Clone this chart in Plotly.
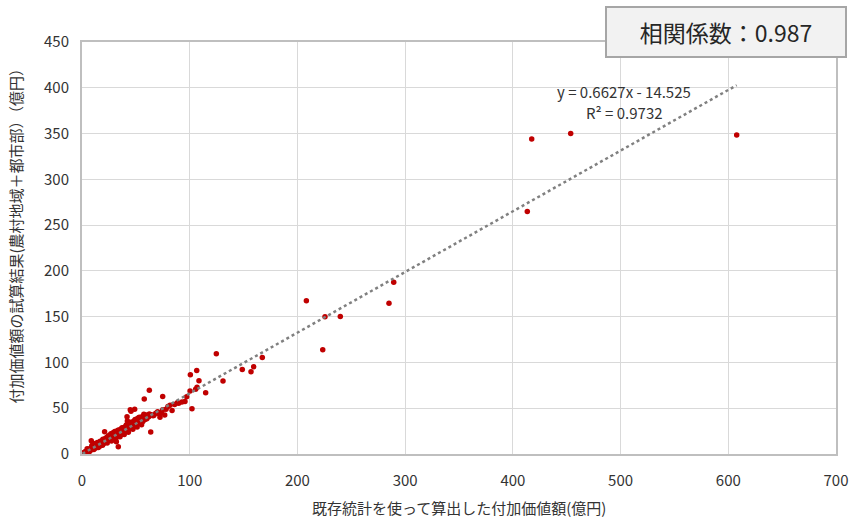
import plotly.graph_objects as go

# --- data ---
# large / outlying points
outer_x = [607.8, 417.5, 453.7, 413.4, 208.3, 225.6, 239.8, 223.5, 285.0, 289.4,
           124.7, 167.4, 159.4, 156.9, 148.8, 130.9, 100.6, 106.5, 108.6, 106.8,
           105.5, 100.3, 114.8, 97.2, 62.5, 57.8, 74.9, 95.6, 92.8, 89.8,
           102.1, 81.7, 79.8, 78.0, 83.6, 74.9, 73.6, 71.8, 76.8, 72.4,
           66.8, 62.5, 63.8, 68.5, 70.2, 86.0, 88.5]
outer_y = [348.5, 344.1, 350.0, 265.0, 167.5, 150.0, 150.3, 113.9, 164.6, 187.6,
           109.5, 105.4, 95.3, 89.8, 92.3, 79.6, 86.5, 91.2, 79.9, 73.0,
           70.8, 68.7, 66.8, 62.4, 69.7, 60.2, 62.8, 57.3, 56.9, 55.5,
           49.3, 53.3, 51.8, 48.9, 47.4, 48.2, 45.2, 43.8, 42.7, 40.2,
           42.4, 43.8, 24.1, 44.6, 46.1, 54.2, 56.0]

# dense cluster near the origin
cluster_x = [0.5, 1.0, 1.5, 2.0, 2.5, 3.0, 3.2, 3.8, 4.0, 4.5, 5.0, 5.2, 5.8, 6.0, 6.3,
             6.9, 7.2, 7.5, 8.0, 8.3, 8.6, 8.8, 9.2, 9.5, 10.0, 10.2, 10.4, 10.8, 11.3, 11.6,
             12.0, 12.3, 12.8, 13.1, 13.5, 13.9, 14.2, 14.6, 15.0, 15.3, 15.8, 16.2, 16.5, 17.0,
             17.4, 17.8, 18.2, 18.6, 19.0, 19.4, 19.8, 20.2, 20.6, 21.0, 21.1, 21.5, 22.0, 22.3,
             22.8, 23.2, 23.6, 24.0, 24.4, 24.8, 25.2, 25.6, 26.0, 26.4, 26.8, 27.2, 27.6, 28.0,
             28.4, 28.8, 29.2, 29.6, 30.0, 30.4, 30.8, 31.2, 31.9, 32.0, 32.4, 32.8, 33.2, 33.7,
             33.8, 34.2, 34.6, 35.0, 35.4, 35.8, 36.2, 36.6, 37.0, 37.4, 37.8, 38.2, 38.6, 39.0,
             39.4, 39.8, 40.2, 40.6, 41.0, 41.4, 41.8, 42.0, 42.1, 42.4, 42.8, 43.2, 43.6, 44.0,
             44.4, 44.8, 45.0, 45.2, 45.5, 45.8, 46.2, 46.6, 47.0, 47.4, 47.8, 48.2, 48.6, 48.9,
             49.0, 49.4, 49.8, 50.2, 50.6, 51.0, 51.4, 51.8, 52.2, 52.6, 53.0, 53.5, 54.0, 54.5,
             55.0, 55.5, 56.0, 56.5, 57.0, 58.0, 58.5, 59.0, 59.7, 60.2, 61.0, 62.0, 64.5, 66.0,
             3.5, 5.5, 7.8, 9.8, 11.9, 13.3, 15.6, 17.6, 19.6, 21.8, 23.9, 25.9, 27.9, 29.9,
             31.6, 33.5, 35.6, 37.6, 39.6, 41.6, 43.8, 46.0, 48.0, 50.0, 52.0, 54.2, 56.2,
             4.8, 7.0, 9.1, 11.0, 13.0, 15.2, 16.9, 19.1, 21.3, 23.4, 25.5, 27.4, 29.5, 31.4,
             33.4, 35.3, 37.2, 39.2, 41.1, 43.0, 45.1, 47.2, 49.3, 51.2, 53.2, 55.3, 57.4]
cluster_y = [0.3, 0.8, 1.2, 1.0, 1.8, 2.2, 1.5, 2.9, 2.1, 3.3, 2.8, 4.1, 3.5, 4.6, 2.9,
             4.2, 5.5, 3.8, 5.1, 6.3, 14.6, 4.6, 6.0, 7.4, 5.4, 11.7, 6.8, 8.2, 7.1, 5.9,
             8.8, 7.5, 9.6, 6.9, 8.4, 10.3, 12.6, 9.1, 7.8, 11.1, 9.8, 12.4, 8.6, 10.9,
             13.6, 11.8, 9.9, 14.2, 12.3, 16.1, 11.2, 13.5, 15.3, 24.4, 12.4, 14.6, 17.2, 13.1,
             15.9, 18.4, 14.3, 16.7, 19.6, 15.2, 17.8, 20.5, 16.4, 18.9, 22.1, 17.3, 19.8, 21.4,
             18.1, 23.2, 20.1, 17.6, 21.8, 24.6, 19.4, 22.7, 13.5, 20.8, 25.1, 23.4, 21.2, 8.0,
             26.3, 22.5, 24.1, 20.3, 25.8, 23.1, 27.4, 22.0, 24.9, 26.7, 21.6, 28.5, 25.3, 23.4,
             27.8, 29.6, 24.7, 26.9, 30.2, 25.6, 40.8, 28.1, 36.1, 31.5, 26.7, 29.3, 32.4, 27.9,
             30.6, 48.2, 33.1, 29.2, 46.7, 31.8, 34.2, 30.1, 32.7, 35.3, 31.2, 33.9, 36.2, 48.9,
             32.3, 34.8, 37.1, 33.5, 35.7, 38.3, 34.4, 36.8, 39.2, 35.6, 37.9, 33.8, 38.6, 36.1,
             39.7, 37.2, 40.3, 35.4, 38.8, 41.2, 37.6, 39.9, 42.7, 38.4, 41.5, 40.6, 42.9, 41.8,
             2.6, 3.9, 5.8, 7.0, 8.3, 9.4, 11.5, 12.9, 14.0, 15.8, 17.1, 19.0, 20.3, 22.6,
             21.5, 24.8, 26.2, 27.1, 29.0, 27.5, 31.0, 33.5, 34.9, 36.0, 37.3, 39.5, 40.9,
             5.6, 2.7, 8.9, 4.9, 11.2, 7.2, 13.8, 9.6, 16.5, 11.9, 19.4, 14.1, 22.3, 16.8,
             25.4, 18.9, 28.6, 21.3, 31.7, 23.8, 34.6, 26.9, 37.8, 29.4, 40.1, 31.9, 43.4]

# trendline (as drawn) and its label
trend_slope = 0.6627
trend_intercept = 0.0
eq_label = "y = 0.6627x - 14.525"
r2_label = "R² = 0.9732"
corr_label = "相関係数：0.987"

x_title = "既存統計を使って算出した付加価値額(億円)"
y_title = "付加価値額の試算結果(農村地域＋都市部）（億円）"

all_x = outer_x + cluster_x
all_y = outer_y + cluster_y

x_min = min(all_x)
x_max = max(all_x)
trend_x = [x_min, x_max]
trend_y = [trend_slope * v + trend_intercept for v in trend_x]

FONT = "Noto Sans CJK JP, Noto Sans, sans-serif"

fig = go.Figure()
fig.add_trace(go.Scatter(
    x=all_x, y=all_y, mode="markers",
    marker=dict(color="#C00000", size=5.5, line=dict(width=0)),
    showlegend=False, hoverinfo="x+y"))
fig.add_trace(go.Scatter(
    x=trend_x, y=trend_y, mode="lines",
    line=dict(color="#808080", width=2.5, dash="dot"),
    showlegend=False, hoverinfo="skip"))

fig.update_layout(
    width=850, height=519,
    margin=dict(l=82, r=14, t=42, b=65),
    paper_bgcolor="white", plot_bgcolor="white",
    font=dict(family=FONT, size=14, color="#404040"),
    xaxis=dict(range=[0, 700], dtick=100, showgrid=True, gridcolor="#D9D9D9",
               gridwidth=1.2, zeroline=False, showline=True, linecolor="#BFBFBF",
               linewidth=2, mirror=True, ticks="", ticklabelstandoff=12,
               automargin=False, tickfont=dict(size=15, color="#333333")),
    yaxis=dict(range=[0, 450], dtick=50, showgrid=True, gridcolor="#D9D9D9",
               gridwidth=1.2, zeroline=False, showline=True, linecolor="#BFBFBF",
               linewidth=2, mirror=True, ticks="", ticklabelstandoff=8,
               automargin=False, tickfont=dict(size=15, color="#333333")),
    annotations=[
        dict(text=x_title, xref="paper", yref="paper", x=0.5, y=-0.131,
             xanchor="center", yanchor="middle", showarrow=False,
             font=dict(size=15, color="#333333")),
        dict(text=y_title, xref="paper", yref="paper", x=-0.088, y=0.539,
             xanchor="center", yanchor="middle", showarrow=False, textangle=-90,
             font=dict(size=15, color="#333333")),
        dict(text=eq_label, xref="paper", yref="paper", x=(624 - 82) / 754,
             y=(454 - 92) / 412, xanchor="center", yanchor="middle", showarrow=False,
             font=dict(size=15, color="#333333")),
        dict(text=r2_label, xref="paper", yref="paper", x=(624 - 82) / 754,
             y=(454 - 112) / 412, xanchor="center", yanchor="middle", showarrow=False,
             font=dict(size=15, color="#333333")),
        dict(text=corr_label, xref="paper", yref="paper", x=(726 - 82) / 754,
             y=(454 - 32) / 412, xanchor="center", yanchor="middle", showarrow=False,
             font=dict(size=23, color="#262626"), bgcolor="#F2F2F2",
             bordercolor="#A6A6A6", borderwidth=2, width=236, height=46),
    ],
)

fig.write_html("out.html", config={"displayModeBar": False},
               post_script="document.body.style.margin='0';")
